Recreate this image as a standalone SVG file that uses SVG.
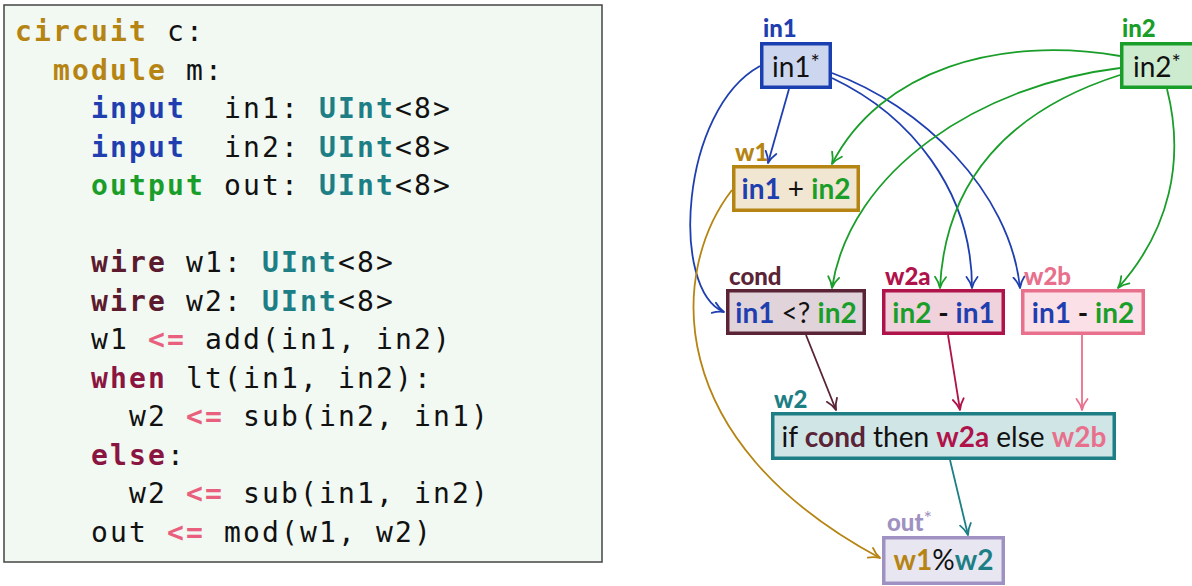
<svg xmlns="http://www.w3.org/2000/svg" width="1192" height="586" viewBox="0 0 1192 586">
<style>
.code{font-family:"DejaVu Sans Mono","Liberation Mono",monospace;font-size:28px;letter-spacing:2.14px;white-space:pre;fill:#111}
.kg{fill:#b58412;font-weight:bold}
.kb{fill:#1f3fb0;font-weight:bold}
.kgr{fill:#1a9e2a;font-weight:bold}
.kt{fill:#1d7f85;font-weight:bold}
.kw{fill:#5c1a2e;font-weight:bold}
.kwh{fill:#8a1540;font-weight:bold}
.op{fill:#e9607e;font-weight:bold}
.lbl{font-family:Lato,"Noto Sans",sans-serif;font-size:24px;font-weight:900}
.nt{font-family:Lato,"Noto Sans",sans-serif;font-size:28px;fill:#111;text-anchor:middle}
.b{font-weight:bold}
.box{stroke-width:3.5}
.cn{fill:none;stroke-width:1.8}
.ah{fill:none;stroke-width:1.8;stroke-linejoin:round;stroke-linecap:round}
</style>
<defs>
<marker id="aBlue" markerUnits="userSpaceOnUse" markerWidth="14" markerHeight="14" viewBox="0 0 14 14" refX="12" refY="7" orient="auto"><path class="ah" d="M1,1.5 Q6,5.5 12,7 Q6,8.5 1,12.5" stroke="#1f3fb0"/></marker>
<marker id="aGreen" markerUnits="userSpaceOnUse" markerWidth="14" markerHeight="14" viewBox="0 0 14 14" refX="12" refY="7" orient="auto"><path class="ah" d="M1,1.5 Q6,5.5 12,7 Q6,8.5 1,12.5" stroke="#1a9e2a"/></marker>
<marker id="aGold" markerUnits="userSpaceOnUse" markerWidth="14" markerHeight="14" viewBox="0 0 14 14" refX="12" refY="7" orient="auto"><path class="ah" d="M1,1.5 Q6,5.5 12,7 Q6,8.5 1,12.5" stroke="#b58412"/></marker>
<marker id="aCond" markerUnits="userSpaceOnUse" markerWidth="14" markerHeight="14" viewBox="0 0 14 14" refX="12" refY="7" orient="auto"><path class="ah" d="M1,1.5 Q6,5.5 12,7 Q6,8.5 1,12.5" stroke="#5a2336"/></marker>
<marker id="aW2a" markerUnits="userSpaceOnUse" markerWidth="14" markerHeight="14" viewBox="0 0 14 14" refX="12" refY="7" orient="auto"><path class="ah" d="M1,1.5 Q6,5.5 12,7 Q6,8.5 1,12.5" stroke="#b0124a"/></marker>
<marker id="aW2b" markerUnits="userSpaceOnUse" markerWidth="14" markerHeight="14" viewBox="0 0 14 14" refX="12" refY="7" orient="auto"><path class="ah" d="M1,1.5 Q6,5.5 12,7 Q6,8.5 1,12.5" stroke="#e8708c"/></marker>
<marker id="aTeal" markerUnits="userSpaceOnUse" markerWidth="14" markerHeight="14" viewBox="0 0 14 14" refX="12" refY="7" orient="auto"><path class="ah" d="M1,1.5 Q6,5.5 12,7 Q6,8.5 1,12.5" stroke="#1d7f85"/></marker>
</defs>
<rect width="1192" height="586" fill="#ffffff"/>

<g id="code">
<rect x="4" y="5" width="598" height="557" fill="#f2f8f2" stroke="#444" stroke-width="1.5"/>
<text class="code" x="15" y="41"><tspan class="kg">circuit</tspan> c:</text>
<text class="code" x="53" y="79.5"><tspan class="kg">module</tspan> m:</text>
<text class="code" x="91" y="118"><tspan class="kb">input</tspan>  in1: <tspan class="kt">UInt</tspan>&lt;8&gt;</text>
<text class="code" x="91" y="156.5"><tspan class="kb">input</tspan>  in2: <tspan class="kt">UInt</tspan>&lt;8&gt;</text>
<text class="code" x="91" y="195"><tspan class="kgr">output</tspan> out: <tspan class="kt">UInt</tspan>&lt;8&gt;</text>
<text class="code" x="91" y="272"><tspan class="kw">wire</tspan> w1: <tspan class="kt">UInt</tspan>&lt;8&gt;</text>
<text class="code" x="91" y="310.5"><tspan class="kw">wire</tspan> w2: <tspan class="kt">UInt</tspan>&lt;8&gt;</text>
<text class="code" x="91" y="349">w1 <tspan class="op">&lt;=</tspan> add(in1, in2)</text>
<text class="code" x="91" y="387.5"><tspan class="kwh">when</tspan> lt(in1, in2):</text>
<text class="code" x="129" y="426">w2 <tspan class="op">&lt;=</tspan> sub(in2, in1)</text>
<text class="code" x="91" y="464.5"><tspan class="kwh">else</tspan>:</text>
<text class="code" x="129" y="503">w2 <tspan class="op">&lt;=</tspan> sub(in1, in2)</text>
<text class="code" x="91" y="541.5">out <tspan class="op">&lt;=</tspan> mod(w1, w2)</text>
</g>

<g id="connectors">
<path class="cn" stroke="#1f3fb0" d="M789,89 L768,163" marker-end="url(#aBlue)"/>
<path class="cn" stroke="#1f3fb0" d="M760,66 C680,110 670,290 724,312" marker-end="url(#aBlue)"/>
<path class="cn" stroke="#1f3fb0" d="M832,78 C910,115 972,190 972,288" marker-end="url(#aBlue)"/>
<path class="cn" stroke="#1f3fb0" d="M832,73 C920,105 1010,190 1020,288" marker-end="url(#aBlue)"/>
<path class="cn" stroke="#1a9e2a" d="M1120,56 C1000,35 880,70 832,164" marker-end="url(#aGreen)"/>
<path class="cn" stroke="#1a9e2a" d="M1120,68 C980,85 850,170 832,288" marker-end="url(#aGreen)"/>
<path class="cn" stroke="#1a9e2a" d="M1120,75 C1010,110 945,180 940,288" marker-end="url(#aGreen)"/>
<path class="cn" stroke="#1a9e2a" d="M1167,89 C1185,160 1170,230 1118,288" marker-end="url(#aGreen)"/>
<path class="cn" stroke="#b58412" d="M732,190 C670,270 660,440 880,558" marker-end="url(#aGold)"/>
<path class="cn" stroke="#5a2336" d="M806,335 L836,410" marker-end="url(#aCond)"/>
<path class="cn" stroke="#b0124a" d="M948,335 L960,410" marker-end="url(#aW2a)"/>
<path class="cn" stroke="#e8708c" d="M1082,335 L1082,410" marker-end="url(#aW2b)"/>
<path class="cn" stroke="#1d7f85" d="M950,460 L968,535" marker-end="url(#aTeal)"/>
</g>

<g id="in1">
<rect class="box" x="761.75" y="43.75" width="68.5" height="43.5" fill="#cdd6ef" stroke="#1a3fb0"/>
<text class="lbl" x="763" y="37" fill="#1f3fb0">in1</text>
<text class="nt" x="796" y="77">in1<tspan font-size="22" dy="-7">*</tspan></text>
</g>
<g id="in2">
<rect class="box" x="1121.75" y="43.75" width="80" height="43.5" fill="#cdeccf" stroke="#1a9e2a"/>
<text class="lbl" x="1122" y="37" fill="#1a9e2a">in2</text>
<text class="nt" x="1133" y="77" style="text-anchor:start">in2<tspan font-size="22" dy="-7">*</tspan></text>
</g>
<g id="w1">
<rect class="box" x="733.75" y="166.75" width="124.5" height="43.5" fill="#f0e6d2" stroke="#b58412"/>
<text class="lbl" x="735" y="161" fill="#b58412">w1</text>
<text class="nt" x="796" y="199"><tspan class="b" fill="#1f3fb0">in1</tspan> + <tspan class="b" fill="#1a9e2a">in2</tspan></text>
</g>
<g id="cond">
<rect class="box" x="727.75" y="290.75" width="136.5" height="42.5" fill="#e0d4da" stroke="#5a2336"/>
<text class="lbl" x="729" y="285" fill="#5a2336">cond</text>
<text class="nt" x="796" y="323"><tspan class="b" fill="#1f3fb0">in1</tspan> &lt;? <tspan class="b" fill="#1a9e2a">in2</tspan></text>
</g>
<g id="w2a">
<rect class="box" x="883.75" y="290.75" width="119.5" height="42.5" fill="#f0d2dd" stroke="#b0124a"/>
<text class="lbl" x="885" y="285" fill="#b0124a">w2a</text>
<text class="nt" x="943.5" y="323"><tspan class="b" fill="#1a9e2a">in2</tspan><tspan class="b"> - </tspan><tspan class="b" fill="#1f3fb0">in1</tspan></text>
</g>
<g id="w2b">
<rect class="box" x="1022.75" y="290.75" width="120.5" height="42.5" fill="#fbe1e7" stroke="#e8708c"/>
<text class="lbl" x="1024" y="285" fill="#e8708c">w2b</text>
<text class="nt" x="1083" y="323"><tspan class="b" fill="#1f3fb0">in1</tspan><tspan class="b"> - </tspan><tspan class="b" fill="#1a9e2a">in2</tspan></text>
</g>
<g id="w2">
<rect class="box" x="772.75" y="413.75" width="341.5" height="44.5" fill="#d0e5e6" stroke="#1d7f85"/>
<text class="lbl" x="774" y="408" fill="#1d7f85">w2</text>
<text class="nt" x="944" y="447">if <tspan class="b" fill="#5a2336">cond</tspan> then <tspan class="b" fill="#b0124a">w2a</tspan> else <tspan class="b" fill="#e8708c">w2b</tspan></text>
</g>
<g id="out">
<rect class="box" x="883.75" y="537.75" width="119.5" height="45.5" fill="#e8e6f1" stroke="#9f92c2"/>
<text class="lbl" x="887" y="531" fill="#9f92c2">out<tspan font-size="20" font-weight="normal" dy="-6">*</tspan></text>
<text class="nt" x="943.5" y="570"><tspan class="b" fill="#b58412">w1</tspan>%<tspan class="b" fill="#1d7f85">w2</tspan></text>
</g>
</svg>
